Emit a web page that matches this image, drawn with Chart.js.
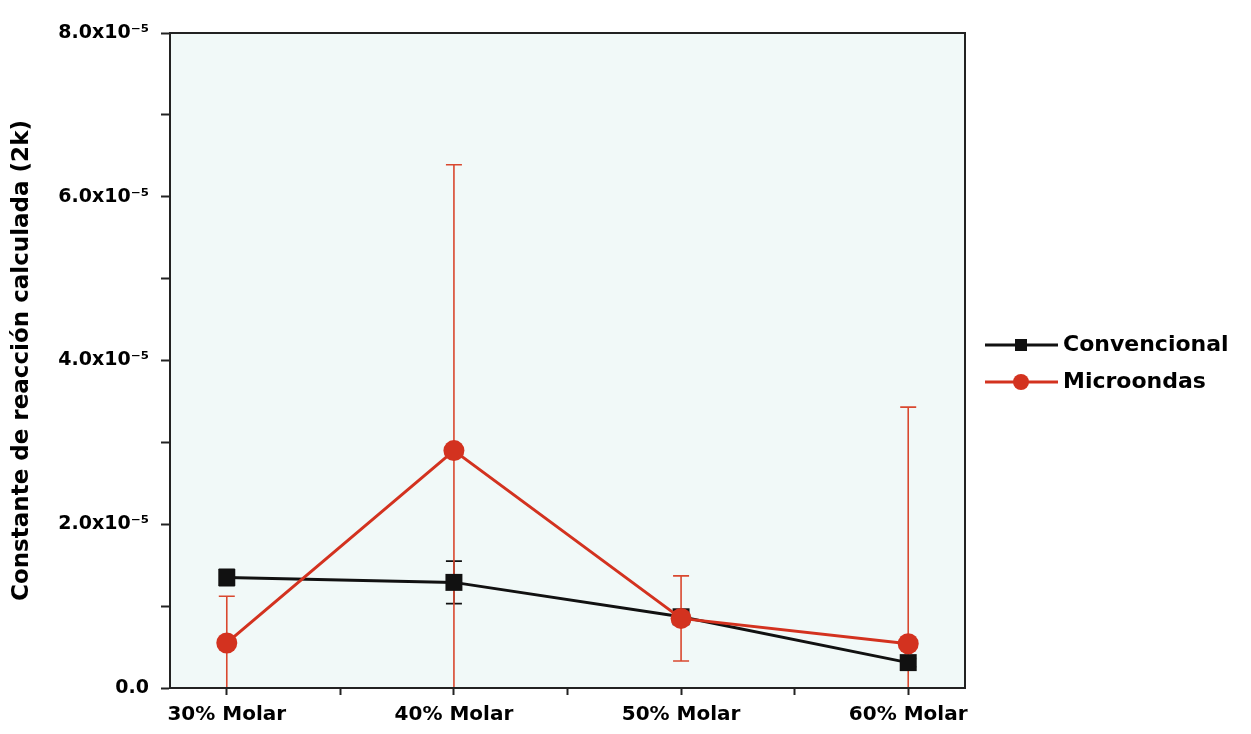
<!DOCTYPE html>
<html lang="es">
<head>
  <meta charset="UTF-8" />
  <title>Constante de reacción</title>
  <script src="https://cdn.jsdelivr.net/npm/chart.js"></script>
  <style>
    * { margin: 0; padding: 0; box-sizing: border-box; }
    body { background: #ffffff; width: 1251px; height: 734px; overflow: hidden; }
    .wrap { position: relative; width: 1251px; height: 734px; }
  </style>
</head>
<body>
  <div class="wrap">
    <canvas id="kChart" width="1251" height="734"></canvas>
  </div>

  <script>
    // data
    const categories = ['30% Molar', '40% Molar', '50% Molar', '60% Molar'];
    const convencional = [1.35e-5, 1.29e-5, 0.87e-5, 0.31e-5];
    const convencionalErr = [0.1e-5, 0.26e-5, 0.05e-5, 0.05e-5];
    const microondas = [0.55e-5, 2.90e-5, 0.85e-5, 0.54e-5];
    const microondasErr = [0.57e-5, 3.49e-5, 0.52e-5, 2.89e-5];
    const yTickLabels = ['0.0', '2.0x10⁻⁵', '4.0x10⁻⁵', '6.0x10⁻⁵', '8.0x10⁻⁵'];

    const FONT = "'DejaVu Sans', sans-serif";
    const BLACK = '#111111';
    const RED = '#d3321f';

    const toPoints = (vals) => vals.map((v, i) => ({ x: i, y: v }));

    // tinted plot area + frame on the top/right
    const frame = {
      id: 'frame',
      beforeDraw(chart) {
        const { ctx, chartArea: a } = chart;
        ctx.save();
        ctx.fillStyle = '#f1f9f8';
        ctx.fillRect(a.left, a.top, a.right - a.left, a.bottom - a.top);
        ctx.restore();
      },
      afterDraw(chart) {
        const { ctx, chartArea: a } = chart;
        ctx.save();
        ctx.strokeStyle = '#222';
        ctx.lineWidth = 2;
        ctx.strokeRect(a.left, a.top, a.right - a.left, a.bottom - a.top);
        ctx.restore();
      }
    };

    // vertical error bars with caps
    const errorBars = {
      id: 'errorBars',
      beforeDatasetsDraw(chart) {
        const { ctx, chartArea: a, scales } = chart;
        ctx.save();
        ctx.beginPath();
        ctx.rect(a.left, a.top, a.right - a.left, a.bottom - a.top);
        ctx.clip();
        chart.data.datasets.forEach(ds => {
          ctx.strokeStyle = ds.errColor;
          ctx.lineWidth = 1.6;
          ds.data.forEach((p, i) => {
            const e = ds.errors[i];
            const x = scales.x.getPixelForValue(p.x);
            const yTop = scales.y.getPixelForValue(p.y + e);
            const yBot = scales.y.getPixelForValue(p.y - e);
            ctx.beginPath();
            ctx.moveTo(x, yTop);
            ctx.lineTo(x, yBot);
            ctx.moveTo(x - 8, yTop);
            ctx.lineTo(x + 8, yTop);
            ctx.moveTo(x - 8, yBot);
            ctx.lineTo(x + 8, yBot);
            ctx.stroke();
          });
        });
        ctx.restore();
      }
    };

    // legend: line sample with marker, then label
    const sideLegend = {
      id: 'sideLegend',
      afterDraw(chart) {
        const { ctx } = chart;
        const rows = [345, 382];
        ctx.save();
        chart.data.datasets.forEach((ds, i) => {
          const y = rows[i];
          ctx.strokeStyle = ds.borderColor;
          ctx.lineWidth = 3;
          ctx.beginPath();
          ctx.moveTo(985, y);
          ctx.lineTo(1058, y);
          ctx.stroke();
          ctx.fillStyle = ds.backgroundColor;
          if (ds.pointStyle === 'rect') {
            ctx.fillRect(1021 - 6, y - 6, 12, 12);
          } else {
            ctx.beginPath();
            ctx.arc(1021, y, 8, 0, Math.PI * 2);
            ctx.fill();
          }
          ctx.fillStyle = '#000';
          ctx.font = `bold 22px ${FONT}`;
          ctx.textBaseline = 'middle';
          ctx.fillText(ds.label, 1063, y);
        });
        ctx.restore();
      }
    };

    new Chart(document.getElementById('kChart').getContext('2d'), {
      type: 'line',
      data: {
        datasets: [
          {
            label: 'Convencional',
            data: toPoints(convencional),
            errors: convencionalErr,
            errColor: BLACK,
            borderColor: BLACK,
            backgroundColor: BLACK,
            borderWidth: 3,
            pointStyle: 'rect',
            pointRadius: 12,
            pointBorderWidth: 0,
            order: 1
          },
          {
            label: 'Microondas',
            data: toPoints(microondas),
            errors: microondasErr,
            errColor: '#d9482f',
            borderColor: RED,
            backgroundColor: RED,
            borderWidth: 3,
            pointStyle: 'circle',
            pointRadius: 10.5,
            pointBorderWidth: 0,
            order: 0
          }
        ]
      },
      options: {
        responsive: false,
        animation: false,
        clip: false,
        layout: { padding: { top: 33, right: 286, left: 0, bottom: 0 } },
        plugins: { legend: { display: false }, tooltip: { enabled: false } },
        scales: {
          x: {
            type: 'linear',
            min: -0.25,
            max: 3.25,
            afterBuildTicks(scale) {
              scale.ticks = [0, 0.5, 1, 1.5, 2, 2.5, 3].map(v => ({ value: v }));
            },
            afterFit(scale) { scale.height = 46; },
            grid: { drawOnChartArea: false, tickLength: 7, tickColor: '#222', tickWidth: 2 },
            border: { color: '#222', width: 2 },
            ticks: {
              autoSkip: false,
              maxRotation: 0,
              color: '#000',
              padding: 8,
              font: { family: FONT, weight: 'bold', size: 20 },
              callback: (v) => Number.isInteger(v) ? categories[v] : ''
            }
          },
          y: {
            min: 0,
            max: 8e-5,
            afterBuildTicks(scale) {
              scale.ticks = [0, 1, 2, 3, 4, 5, 6, 7, 8].map(k => ({ value: k * 1e-5 }));
            },
            afterFit(scale) { scale.width = 170; },
            grid: { drawOnChartArea: false, tickLength: 9, tickColor: '#222', tickWidth: 2 },
            border: { color: '#222', width: 2 },
            ticks: {
              color: '#000',
              padding: 12,
              font: { family: FONT, weight: 'bold', size: 19 },
              callback: (v, i) => i % 2 === 0 ? yTickLabels[i / 2] : ''
            },
            title: {
              display: true,
              text: 'Constante de reacción calculada (2k)',
              color: '#000',
              padding: { top: 8, bottom: 8 },
              font: { family: FONT, weight: 'bold', size: 23 }
            }
          }
        }
      },
      plugins: [frame, errorBars, sideLegend]
    });
  </script>
</body>
</html>
